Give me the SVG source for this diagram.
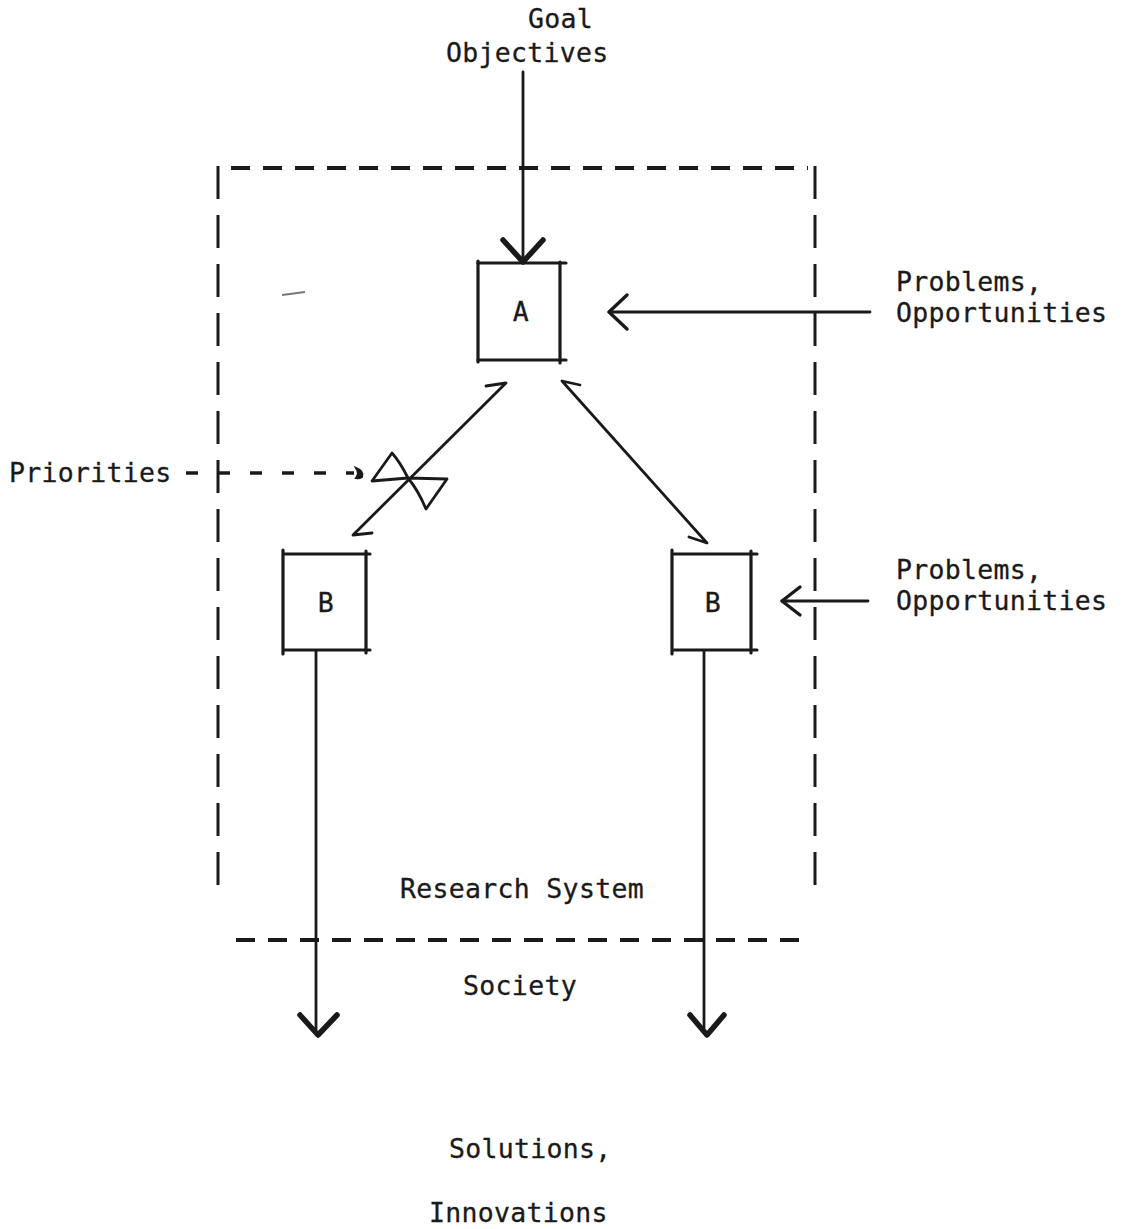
<svg xmlns="http://www.w3.org/2000/svg" width="1124" height="1229" viewBox="0 0 1124 1229">
<style>
  .t { font-family: "DejaVu Sans Mono", "Liberation Mono", monospace; font-size: 26.5px; letter-spacing: 0.3px; fill: #1a1a1a; stroke: #1a1a1a; stroke-width: 0.3; }
  .box { stroke: #1a1a1a; stroke-width: 3.2; fill: none; stroke-linecap: round; }
  .ln { stroke: #1a1a1a; stroke-width: 2.8; fill: none; stroke-linecap: round; stroke-linejoin: round; }
  .ah { stroke: #1a1a1a; stroke-width: 3.4; fill: none; stroke-linecap: round; stroke-linejoin: round; }
  .hd { stroke: #1a1a1a; stroke-width: 5.5; fill: none; stroke-linecap: round; stroke-linejoin: round; }
  .dh { stroke: #1a1a1a; stroke-width: 4; fill: none; stroke-dasharray: 19 13; }
  .dv { stroke: #1a1a1a; stroke-width: 3; fill: none; stroke-dasharray: 33 16; }
</style>
<rect width="1124" height="1229" fill="#ffffff"/>

<g id="boundary">
  <line class="dh" x1="231" y1="168" x2="808" y2="168"/>
  <line class="dv" x1="218" y1="166" x2="218" y2="899"/>
  <line class="dv" x1="815" y1="166" x2="815" y2="899"/>
  <line class="dh" x1="236" y1="940" x2="806" y2="940"/>
  <text class="t" x="522" y="898" text-anchor="middle">Research System</text>
  <text class="t" x="520" y="995" text-anchor="middle">Society</text>
  <line x1="282" y1="295" x2="305" y2="292" stroke="#777" stroke-width="2"/>
</g>

<g id="nodeA">
  <line class="box" x1="478" y1="263" x2="566" y2="263"/>
  <line class="box" x1="478" y1="261" x2="478" y2="362"/>
  <line class="box" x1="560" y1="262" x2="560" y2="363"/>
  <line class="box" x1="478" y1="360" x2="566" y2="360"/>
  <text class="t" x="521" y="321" text-anchor="middle">A</text>
</g>

<g id="nodeB1">
  <line class="box" x1="284" y1="554" x2="370" y2="554"/>
  <line class="box" x1="283" y1="550" x2="283" y2="654"/>
  <line class="box" x1="366" y1="551" x2="366" y2="653"/>
  <line class="box" x1="284" y1="650" x2="370" y2="650"/>
  <text class="t" x="326" y="612" text-anchor="middle">B</text>
</g>

<g id="nodeB2">
  <line class="box" x1="674" y1="554" x2="757" y2="554"/>
  <line class="box" x1="672" y1="550" x2="672" y2="654"/>
  <line class="box" x1="751" y1="551" x2="751" y2="653"/>
  <line class="box" x1="674" y1="650" x2="757" y2="650"/>
  <text class="t" x="713" y="612" text-anchor="middle">B</text>
</g>

<g id="labels">
  <text class="t" x="528" y="28">Goal</text>
  <text class="t" x="446" y="62">Objectives</text>
  <text class="t" x="896" y="291">Problems,</text>
  <text class="t" x="896" y="322">Opportunities</text>
  <text class="t" x="896" y="579">Problems,</text>
  <text class="t" x="896" y="610">Opportunities</text>
  <text class="t" x="9" y="482">Priorities</text>
  <text class="t" x="449" y="1158">Solutions,</text>
  <text class="t" x="429" y="1222">Innovations</text>
</g>

<g id="connectors">
  <!-- goal to A -->
  <line class="ln" x1="523" y1="72" x2="523" y2="262"/>
  <polyline class="hd" points="503,240 523,262 543,240"/>
  <!-- problems to A -->
  <line class="ln" x1="870" y1="312" x2="609" y2="312"/>
  <polyline class="ah" points="627,295 609,312 627,329"/>
  <!-- problems to B2 -->
  <line class="ln" x1="868" y1="601" x2="782" y2="601"/>
  <polyline class="ah" points="800,587 782,601 800,615"/>
  <!-- B1 <-> A -->
  <polyline class="ln" points="372,533 353,535 506,383 486,386"/>
  <!-- valve / bowtie -->
  <path class="ln" d="M372,481 L392,453 Q400,462 408,478 L447,479 L426,509 Q418,490 408,478 Z M372,481 L408,478"/>
  <!-- priorities dashed -->
  <line x1="186" y1="473" x2="354" y2="473" stroke="#1a1a1a" stroke-width="3.5" stroke-dasharray="12 20"/>
  <path d="M356,468 Q364,471 362,477 Q359,479 356,478 Q360,474 356,468 Z" fill="#1a1a1a" stroke="#1a1a1a" stroke-width="2"/>
  <!-- A <-> B2 -->
  <polyline class="ln" points="580,385 562,381 707,543 689,537"/>
  <!-- B1 down -->
  <line class="ln" x1="316" y1="651" x2="316" y2="1030"/>
  <polyline class="hd" points="300,1015 318,1035 337,1015"/>
  <!-- B2 down -->
  <line class="ln" x1="704" y1="651" x2="704" y2="1030"/>
  <polyline class="hd" points="690,1015 707,1035 724,1015"/>
</g>
</svg>
